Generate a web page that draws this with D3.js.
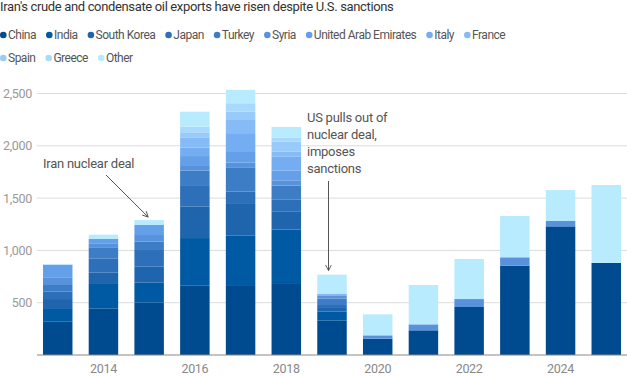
<!DOCTYPE html>
<html>
<head>
<meta charset="utf-8">
<script src="https://cdn.jsdelivr.net/npm/d3@7"></script>
<style>
  body { margin: 0; background: #fff; }
  svg text { font-family: "Roboto", "Noto Sans", sans-serif; }
</style>
</head>
<body>
<svg width="627" height="376"></svg>
<script>
var years = [2013, 2014, 2015, 2016, 2017, 2018, 2019, 2020, 2021, 2022, 2023, 2024, 2025];
var countries = ['China', 'India', 'South Korea', 'Japan', 'Turkey', 'Syria', 'United Arab Emirates', 'Italy', 'France', 'Spain', 'Greece', 'Other'];
var colors = ['#004b8f', '#0059a3', '#1f65ae', '#2d6fb9', '#3c7dc5', '#5892dc', '#64a0e9', '#74adf2', '#86bbf6', '#98cbf9', '#a9dafb', '#b8ebfd'];

// thousand barrels per day
var china  = [318, 446, 500, 662, 660, 679, 328, 156, 236, 459, 854, 1230, 880];
var india  = [122, 233, 191, 456, 480, 520, 86, 0, 0, 0, 0, 0, 0];
var korea  = [95, 108, 153, 300, 304, 175, 44, 0, 0, 0, 0, 0, 0];
var japan  = [70, 137, 160, 198, 120, 110, 20, 0, 0, 0, 0, 0, 0];
var turkey = [64, 106, 79, 146, 225, 136, 60, 0, 0, 0, 0, 0, 0];
var syria  = [74, 38, 64, 45, 50, 50, 30, 32, 57, 76, 80, 51, 0];
var uae    = [120, 41, 96, 95, 110, 95, 12, 0, 0, 0, 0, 0, 0];
var italy  = [0, 0, 0, 80, 172, 130, 6, 0, 0, 0, 0, 0, 0];
var france = [0, 0, 0, 99, 126, 50, 0, 0, 0, 0, 0, 0, 0];
var spain  = [0, 0, 0, 48, 80, 95, 0, 0, 0, 0, 0, 0, 0];
var greece = [0, 0, 0, 54, 80, 40, 4, 0, 0, 0, 0, 0, 0];
var other  = [7, 41, 47, 143, 128, 100, 178, 201, 376, 383, 395, 296, 745];

var yTicks = [500, 1000, 1500, 2000, 2500];
var xTicks = [2014, 2016, 2018, 2020, 2022, 2024];

var series = [china, india, korea, japan, turkey, syria, uae, italy, france, spain, greece, other];
var data = years.map(function(y, i) {
  var row = { year: y };
  countries.forEach(function(c, j) { row[c] = series[j][i]; });
  return row;
});

var svg = d3.select('svg');

var x = d3.scaleBand().domain(years).range([37, 627]).paddingInner(0.355).paddingOuter(0.131);
var y = d3.scaleLinear().domain([0, 2500]).range([355, 93.5]);

// title
svg.append('text')
  .attr('x', 0).attr('y', 11)
  .attr('fill', '#333')
  .style('font-size', '13px').style('letter-spacing', '-0.35px')
  .text("Iran's crude and condensate oil exports have risen despite U.S. sanctions");

// legend
var legend = svg.append('g');
var lx = 0, ly = 35;
countries.forEach(function(c, i) {
  var g = legend.append('g');
  g.append('circle').attr('cx', 3.3).attr('cy', 0).attr('r', 3.3).attr('fill', colors[i]);
  var t = g.append('text').attr('x', 8).attr('y', 4.3)
    .attr('fill', '#555').style('font-size', '12px').style('letter-spacing', '-0.5px').text(c);
  var w = 8 + t.node().getComputedTextLength();
  if (lx + w > 530) { lx = 0; ly += 23; }
  g.attr('transform', 'translate(' + lx + ',' + ly + ')');
  lx += w + 10;
});

// grid
svg.append('g').selectAll('line').data(yTicks).enter().append('line')
  .attr('x1', 37).attr('x2', 627)
  .attr('y1', function(d) { return y(d); }).attr('y2', function(d) { return y(d); })
  .attr('stroke', '#dcdcdc').attr('stroke-width', 1);

svg.append('g').selectAll('text').data(yTicks).enter().append('text')
  .attr('x', 32).attr('y', function(d) { return y(d) + 4.5; })
  .attr('text-anchor', 'end')
  .attr('fill', '#999').style('font-size', '12.5px').style('letter-spacing', '-0.3px')
  .text(d3.format(','));

// bars
var stack = d3.stack().keys(countries);
svg.append('g').selectAll('g').data(stack(data)).enter().append('g')
  .attr('fill', function(d, i) { return colors[i]; })
  .selectAll('rect').data(function(d) { return d; }).enter().append('rect')
  .attr('x', function(d) { return x(d.data.year); })
  .attr('width', x.bandwidth())
  .attr('y', function(d) { return y(d[1]); })
  .attr('height', function(d) { return y(d[0]) - y(d[1]); });

// baseline
svg.append('line').attr('x1', 37).attr('x2', 627).attr('y1', 355).attr('y2', 355)
  .attr('stroke', '#888').attr('stroke-width', 1);

// x labels
svg.append('g').selectAll('text').data(xTicks).enter().append('text')
  .attr('x', function(d) { return x(d) + x.bandwidth() / 2; })
  .attr('y', 373)
  .attr('text-anchor', 'middle')
  .attr('fill', '#888').style('font-size', '12.5px').style('letter-spacing', '-0.3px')
  .text(function(d) { return d; });

// annotations
svg.append('defs').append('marker')
  .attr('id', 'arrow').attr('viewBox', '0 0 10 10')
  .attr('refX', 9).attr('refY', 5)
  .attr('markerWidth', 7).attr('markerHeight', 7)
  .attr('orient', 'auto')
  .append('path').attr('d', 'M1,1 L9,5 L1,9').attr('fill', 'none')
  .attr('stroke', '#555').attr('stroke-width', 1.3);

svg.append('text').attr('x', 43).attr('y', 168)
  .attr('fill', '#555').style('font-size', '13px').style('letter-spacing', '-0.25px')
  .text('Iran nuclear deal');
svg.append('line')
  .attr('x1', 106).attr('y1', 175)
  .attr('x2', x(2015) + x.bandwidth() / 2 - 1).attr('y2', y(1290) - 3)
  .attr('stroke', '#555').attr('stroke-width', 1).attr('marker-end', 'url(#arrow)');

var note = ['US pulls out of', 'nuclear deal,', 'imposes', 'sanctions'];
svg.append('g').selectAll('text').data(note).enter().append('text')
  .attr('x', 307).attr('y', function(d, i) { return 122 + i * 17; })
  .attr('fill', '#555').style('font-size', '13px').style('letter-spacing', '-0.25px')
  .text(function(d) { return d; });
svg.append('line')
  .attr('x1', 328.5).attr('y1', 181)
  .attr('x2', 328.5).attr('y2', y(768) - 4)
  .attr('stroke', '#555').attr('stroke-width', 1).attr('marker-end', 'url(#arrow)');
</script>
</body>
</html>
